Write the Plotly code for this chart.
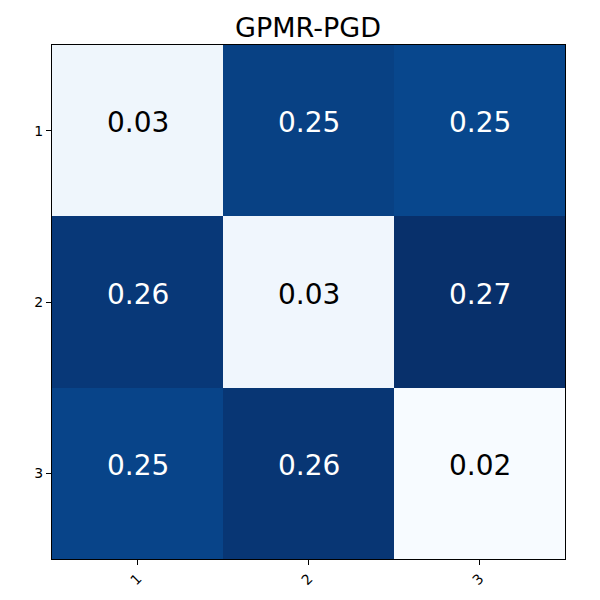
import plotly.graph_objects as go
import plotly.colors as pc

labels = ["1", "2", "3"]
positions = [1, 2, 3]
values = [
    [0.030, 0.254, 0.248],
    [0.262, 0.029, 0.270],
    [0.251, 0.264, 0.020],
]
text_vals = [[f"{v:.2f}" for v in row] for row in values]
vmin = min(min(r) for r in values)
vmax = max(max(r) for r in values)
thresh = (vmin + vmax) / 2

fig = go.Figure(go.Heatmap(
    z=values, x=positions, y=positions,
    colorscale=pc.sequential.Blues, zmin=vmin, zmax=vmax,
    showscale=False, hoverinfo="skip", xgap=0, ygap=0,
))

for i, row in enumerate(values):
    for j, v in enumerate(row):
        fig.add_annotation(
            x=positions[j], y=positions[i], text=text_vals[i][j], showarrow=False,
            xref="x", yref="y", yshift=8,
            font=dict(family="DejaVu Sans", size=28,
                      color="white" if v > thresh else "black"),
        )

fig.update_layout(
    width=600, height=600,
    margin=dict(l=44, r=43, t=37, b=49),
    paper_bgcolor="white", plot_bgcolor="white",
    title=dict(text="GPMR-PGD", x=0.5, xanchor="center", y=0.967, yanchor="middle",
               font=dict(family="DejaVu Sans", size=27, color="black")),
    font=dict(family="DejaVu Sans", size=14, color="black"),
)
fig.update_xaxes(range=[0.5, 3.5], tickvals=positions, ticktext=labels, tickangle=-45,
                 ticks="outside", ticklen=5, tickwidth=1,
                 tickcolor="black", showline=True, linecolor="black", linewidth=1,
                 mirror=True, showgrid=False, zeroline=False)
fig.update_yaxes(range=[3.5, 0.5], tickvals=positions, ticktext=labels,
                 ticks="outside", ticklen=5, tickwidth=1,
                 tickcolor="black", showline=True, linecolor="black", linewidth=1,
                 mirror=True, showgrid=False, zeroline=False)

fig.write_html("out.html")
